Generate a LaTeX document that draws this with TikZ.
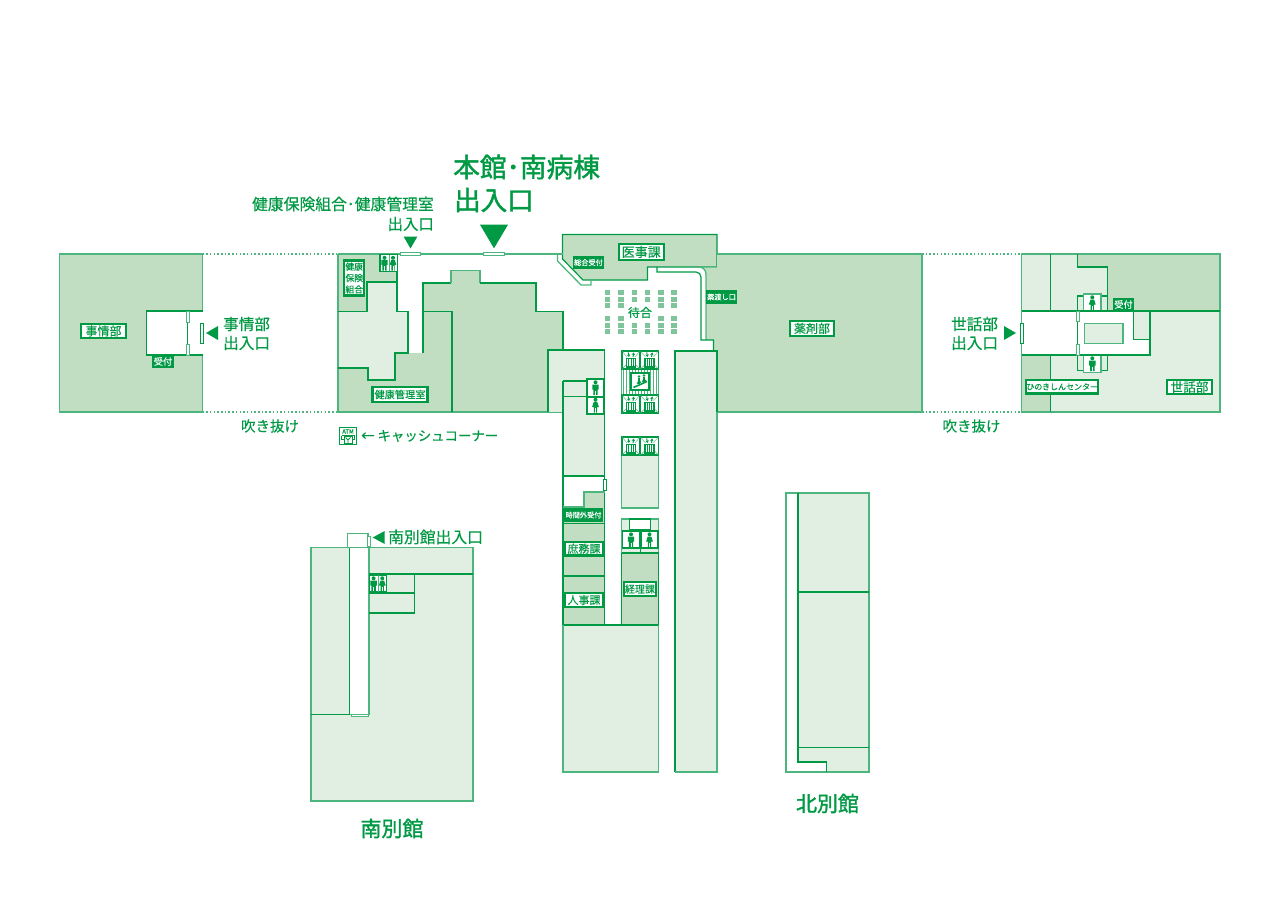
\documentclass[tikz,border=0pt]{standalone}
\usepackage{fontspec}
\setmainfont[FakeBold=0.35]{Noto Sans CJK JP}
\newfontfamily\headf[FakeBold=1.5]{Noto Sans CJK JP}
\newfontfamily\labf[FakeBold=0.25]{Noto Sans CJK JP}
\newcommand\fs[1]{\fontsize{#1}{#1}\selectfont}
\definecolor{gd}{HTML}{009944}
\definecolor{gs}{HTML}{4DB67E}
\definecolor{lt}{HTML}{E1EFE3}
\definecolor{md}{HTML}{C1DEC2}
\definecolor{seat}{HTML}{80C49B}
\usetikzlibrary{arrows.meta}
\tikzset{
 wall/.style={draw=gd,line width=1.2pt},
 soft/.style={draw=gs,line width=1.3pt},
 light/.style={fill=lt},
 mid/.style={fill=md},
 whitef/.style={fill=white},
 dotline/.style={draw=gs,line width=1.1pt,dash pattern=on 1.5pt off 2.2pt},
 doorbox/.style={draw=gd,line width=.8pt,fill=white},
 lab/.style={draw=gd,line width=2.2pt,fill=white,text=gd,inner sep=0pt,align=center},
 dlab/.style={fill=gd,text=white,inner sep=0pt,align=center},
 txt/.style={text=gd,inner sep=0pt,align=center},
 man/.pic={\fill[gd] (0,-5.2) circle (2);
   \fill[gd] (-3.2,-3) rectangle (3.2,2) (-2.2,2) rectangle (2.2,7.5);
   \fill[white] (-.2,3) rectangle (.2,7.5);},
 woman/.pic={\fill[gd] (0,-5.2) circle (2);
   \fill[gd] (-1.8,-3) -- (1.8,-3) -- (3.4,2) -- (-3.4,2) -- cycle (-1.6,2) rectangle (1.6,7.5);
   \fill[white] (-.2,3) rectangle (.2,7.5);},
 evcar/.pic={\draw[draw=gd,line width=1.1pt,fill=white] (0,0) rectangle (18,18);
   \draw[gs,line width=.4pt] (0,0)--(5,6) (18,0)--(13,6) (0,18)--(4,14) (18,18)--(14,14);
   \draw[draw=gd,line width=1.1pt] (4.5,7.5) rectangle (13.5,16);
   \draw[gd,line width=.9pt] (6.7,8)--(6.7,16) (9,8)--(9,16) (11.3,8)--(11.3,16);
   \draw[gd,line width=1pt,-{Stealth[length=2.6pt,width=3.4pt]}] (6.2,1.5)--(7,6);
   \draw[gd,line width=1pt,-{Stealth[length=2.6pt,width=3.4pt]}] (11,6)--(11.8,1.5);},
}
\begin{document}
\begin{tikzpicture}[x=1pt,y=-1pt]
\useasboundingbox (0,0) rectangle (1280,912);
\fill[white] (0,0) rectangle (1280,912);

% ---------- left wing (事情部)
\path[mid] (59.5,254) rectangle (202.5,412);
\draw[soft] (59.5,254) rectangle (202.5,412);
\path[whitef] (146.5,311) rectangle (202.5,355);
\draw[wall] (202.5,311) -- (146.5,311) -- (146.5,355) -- (202.5,355);
\draw[wall] (187.5,311) -- (187.5,355);
\draw[doorbox,draw=gs] (186,311) rectangle (189,322);
\draw[doorbox,draw=gs] (186,344) rectangle (189,355);
\draw[doorbox] (200.5,323.5) rectangle (203.5,343.5);
\draw[dotline] (202.5,254) -- (338,254);
\draw[dotline] (202.5,412) -- (338,412);
\draw[dotline] (922,254) -- (1021.5,254);
\draw[dotline] (922,412) -- (1021.5,412);

% ---------- main building, west part
\path[light] (338,311) -- (367,311) -- (367,282) -- (397,282) -- (397,311.5) -- (408,311.5) -- (408,353) -- (395,353) -- (395,380) -- (368,380) -- (368,368) -- (338,368) -- cycle;
\path[mid] (338,254) -- (397,254) -- (397,282) -- (367,282) -- (367,311) -- (338,311) -- cycle;
\path[mid] (338,368) -- (368,368) -- (368,380) -- (395,380) -- (395,353) -- (423,353) -- (423,311.5) -- (452,311.5) -- (452,412) -- (338,412) -- cycle;
\path[mid] (423,311.5) -- (423,283) -- (451,283) -- (451,270.5) -- (480,270.5) -- (480,283) -- (536,283) -- (536,311.5) -- (563,311.5) -- (563,412) -- (452,412) -- (452,311.5) -- cycle;
\draw[soft] (338,254) -- (338,412) -- (563,412);
\draw[soft] (338,254) -- (558,254);
\draw[wall] (397,254) -- (397,311.5) -- (408,311.5) -- (408,353) -- (395,353) -- (395,380) -- (368,380) -- (368,368) -- (338,368);
\draw[wall] (338,311.5) -- (367,311.5) -- (367,282) -- (397,282);
\draw[wall] (423,353) -- (423,283) -- (451,283);
\draw[soft] (451,283) -- (451,270.5) -- (480,270.5) -- (480,283);
\draw[wall] (480,283) -- (536,283) -- (536,311.5) -- (563,311.5) -- (563,350);
\draw[wall] (423,311.5) -- (452,311.5) -- (452,412);
\draw[doorbox,draw=gs] (400,252.5) rectangle (420.5,255.5);
\draw[doorbox,draw=gs] (483.5,252.5) rectangle (504,255.5);

% ---------- 医事課 block
\path[mid] (562.5,234.5) -- (717,234.5) -- (717,267) -- (647.5,267) -- (647.5,280) -- (583,280) -- (562.5,259) -- cycle;
\draw[wall] (562.5,259) -- (562.5,234.5) -- (717,234.5) -- (717,267) -- (647.5,267) -- (647.5,280) -- (583,280) -- cycle;
\draw[soft] (557.5,254) -- (557.5,261) -- (581,285) -- (591,285) -- (591,280);
\draw[soft] (557.5,254) -- (562.5,254);

% ---------- east part
\path[mid] (717,267) -- (717,254) -- (922,254) -- (922,412) -- (717,412) -- (717,351) -- (713.5,351) -- (713.5,340) -- (706,340) -- (706,274) arc[start angle=0,end angle=-90,radius=7] -- cycle;
\draw[soft] (717,254) -- (922,254) -- (922,412) -- (717,412);
\draw[soft] (706,340) -- (706,274) arc[start angle=0,end angle=-90,radius=7] -- (717,267);
\draw[wall] (657,267) -- (657,272) -- (696,272) arc[start angle=-90,end angle=0,radius=5] -- (701,340) -- (713.5,340) -- (713.5,351);

% ---------- west column
\path[light] (548,350) rectangle (605,412);
\path[light] (563,412) rectangle (604.5,476);
\draw[wall] (563,311.5) -- (563,350);
\draw[wall] (548,412) -- (548,350) -- (604.5,350) -- (604.5,625);
\draw[wall] (563,381) -- (563,625);
\draw[wall] (563,381) -- (587,381) (563,396.5) -- (587,396.5);
\draw[wall,fill=white] (587,379) rectangle (604,397);
\draw[wall,fill=white] (587,397) rectangle (604,414);
\path (595.5,387.5) pic {man};
\path (595.5,405) pic {woman};
% rooms
\path[whitef] (563,476) -- (604.5,476) -- (604.5,492) -- (584,492) -- (584,507) -- (563,507) -- cycle;
\path[mid] (584,492) rectangle (604,507);
\path[mid] (563,507) rectangle (604,625);
\draw[wall] (563,476) -- (604.5,476);
\draw[wall] (563,381) -- (563,625);
\draw[wall] (604.5,476) -- (604.5,625);
\draw[soft] (604.5,492) -- (584,492) -- (584,507) -- (563,507);
\draw[wall] (563,523.5) -- (604.5,523.5);
\draw[wall] (563,576) -- (604.5,576);
\draw[doorbox] (603,479) rectangle (606,490);

% ---------- elevator core
\path[whitef] (621.5,350.5) rectangle (658.5,413);
\draw[soft] (621.5,350.5) rectangle (658.5,413);
\foreach \xx in {623,626,...,658} {\draw[gs,line width=.5pt] (\xx,369) -- (\xx,394.5);}
\path (622,351) pic {evcar};
\path (640.5,351) pic {evcar};
\path (622,395) pic {evcar};
\path (640.5,395) pic {evcar};
\draw[wall,fill=white] (631,373) rectangle (649,390);
\draw[gd,line width=1.6pt] (633.5,387.5) -- (647,381.5);
\fill[gd] (639,376.5) circle (1.3) (644,375.5) circle (1.3);
\draw[gd,line width=1.1pt] (639,378) -- (639,384) (644,377) -- (644,382);
\draw[gd,line width=.8pt] (637,384) -- (639,380) -- (641,383) (642,382) -- (644,379) -- (646,381);

% centre room
\path[light] (621.5,437) rectangle (658.5,508);
\draw[soft] (621.5,437) rectangle (658.5,508);
\path (622,437) pic {evcar};
\path (640.5,437) pic {evcar};

% 経理課 block
\path[light] (621.5,519) rectangle (658.5,553);
\path[mid] (621.5,553) rectangle (658.5,625);
\draw[soft] (621.5,519) rectangle (658.5,553);
\draw[wall] (621.5,553) -- (621.5,625) (658.5,553) -- (658.5,625) (621.5,553) -- (658.5,553);
\draw[wall,fill=white] (629.5,519) rectangle (650.5,529.5);
\draw[wall,fill=white] (622.5,531) rectangle (640,548);
\draw[wall,fill=white] (641,531) rectangle (658,548);
\draw[wall] (640.5,548) -- (640.5,553);
\path (631,539.5) pic {man};
\path (649.5,539.5) pic {woman};

% south lower wing
\path[light] (563,625) rectangle (658.5,772);
\draw[wall] (563,625) -- (658.5,625);
\draw[soft] (563,625) -- (563,772) -- (658.5,772) -- (658.5,625);

% east long column
\path[light] (675,351) rectangle (717,772);
\draw[wall] (675,772) -- (675,351) -- (717,351) -- (717,412);
\draw[soft] (717,412) -- (717,772) -- (675,772);

% seats
\foreach \xx in {604.5,618,631.5,644.5,658,671}
 \foreach \yy in {290,296.5,302.6,316,322.6,329} {
  \pgfmathtruncatemacro\keep{(\xx>630 && \xx<650 && (abs(\yy-302.6)<.1 || abs(\yy-316)<.1)) ? 0 : 1}
  \ifnum\keep=1 \fill[seat] (\xx,\yy) rectangle ++(5.5,5); \fi
 }

% ---------- east wing (世話部)
\path[light] (1021.5,254) rectangle (1220,412);
\path[mid] (1077.5,254) -- (1220,254) -- (1220,311) -- (1107.5,311) -- (1107.5,267) -- (1077.5,267) -- cycle;
\path[mid] (1021.5,355) rectangle (1050.5,412);
\path[whitef] (1021.5,311) rectangle (1150,355);
\path[light] (1133.5,311) rectangle (1150,339.5);
\draw[soft] (1021.5,254) rectangle (1220,412);
\draw[wall] (1050.5,254) -- (1050.5,311) (1050.5,355) -- (1050.5,412);
\draw[wall] (1077.5,254) -- (1077.5,267) -- (1107.5,267) -- (1107.5,296);
\draw[wall] (1021.5,311) -- (1220,311);
\draw[wall] (1021.5,355) -- (1150,355) -- (1150,311);
\draw[wall] (1133.5,311) -- (1133.5,339.5) -- (1150,339.5);
\draw[wall] (1077.5,311) -- (1077.5,355);
\draw[doorbox,draw=gs] (1076,311) rectangle (1079,321);
\draw[doorbox,draw=gs] (1076,344) rectangle (1079,355);
\draw[doorbox] (1020.5,323) rectangle (1023.5,343);
\path[light] (1084.5,323.5) rectangle (1123,343.5);
\draw[soft] (1084.5,323.5) rectangle (1123,343.5);
\draw[wall] (1077.5,311) -- (1077.5,296) -- (1084,296);
\draw[wall] (1101,296) -- (1107.5,296) -- (1107.5,311);
\draw[wall] (1077.5,355) -- (1077.5,370.5) -- (1084,370.5);
\draw[wall] (1101,370.5) -- (1107.5,370.5) -- (1107.5,355);
\draw[soft,fill=white] (1083.5,294) rectangle (1101,311);
\draw[soft,fill=white] (1083.5,355) rectangle (1101,372.5);
\draw[wall] (1083,311) -- (1102,311) (1083,355) -- (1102,355);
\path (1092.3,302.5) pic {woman};
\path (1092.3,363.5) pic {man};

% ---------- south annex
\path[light] (311,547.5) rectangle (473,801);
\draw[soft] (311,547.5) rectangle (473,801);
\draw[soft,fill=white] (347.5,533.5) rectangle (368,547.5);
\draw[doorbox,draw=gs] (367,536) rectangle (370,546);
\path[whitef] (349.5,547.5) rectangle (369,714.5);
\draw[wall] (349.5,547.5) -- (349.5,714.5) -- (311,714.5);
\draw[soft] (369,547.5) -- (369,714.5) -- (349.5,714.5);
\draw[doorbox,draw=gs] (351,714) rectangle (368,716.5);
\draw[wall] (369,574) -- (473,574);
\draw[wall] (369,593) -- (414.5,593);
\draw[wall] (414.5,574) -- (414.5,613) -- (369,613);
\draw[wall,fill=white] (369.5,575) rectangle (386.5,592);
\draw[gs,line width=.5pt] (378,575) -- (378,592);
\begin{scope}[shift={(373.6,583.5)},scale=.8] \path (0,0) pic {man}; \end{scope}
\begin{scope}[shift={(382.3,583.5)},scale=.8] \path (0,0) pic {woman}; \end{scope}

% ---------- north annex
\path[light] (798,493) -- (869,493) -- (869,772) -- (826.5,772) -- (826.5,762) -- (798,762) -- cycle;
\draw[soft] (786,772) -- (786,493) -- (869,493) -- (869,772) -- cycle;
\draw[wall] (798,493) -- (798,762) -- (826.5,762) -- (826.5,772);
\draw[wall] (798,592) -- (869,592);
\draw[wall] (798,747.5) -- (869,747.5);

% toilets top-left
\draw[wall,fill=white] (380,254.5) rectangle (397.5,271.5);
\draw[gs,line width=.5pt] (389,255) -- (389,271);
\begin{scope}[shift={(384.5,263)},scale=.8] \path (0,0) pic {man}; \end{scope}
\begin{scope}[shift={(393,263)},scale=.8] \path (0,0) pic {woman}; \end{scope}

% ---------- labels
\node[lab,minimum width=20,minimum height=35,font=\labf\fontsize{8.8}{11.4}\selectfont] (kenpo) at (354.2,278) {健康\\保険\\組合};
\node[lab,minimum width=55,minimum height=15,font=\labf\fs{10.2}] (kanri) at (400,394.5) {健康管理室};
\node[lab,minimum width=45,minimum height=16,font=\labf\fs{13}] (ijika) at (641.2,252) {医事課};
\node[dlab,minimum width=31,minimum height=13,font=\labf\fs{7.2}] (sogo) at (588.5,262.5) {総合受付};
\node[dlab,minimum width=31,minimum height=14,font=\labf\fs{7.2}] (kusuri) at (721.5,297) {薬渡し口};
\node[txt,font=\fs{12}] (machi) at (640,312.5) {待合};
\node[lab,minimum width=44.5,minimum height=15,font=\labf\fs{12}] (yaku) at (812,328.5) {薬剤部};
\node[lab,minimum width=45,minimum height=14.5,font=\labf\fs{12}] (jijo) at (103.5,331) {事情部};
\node[dlab,minimum width=22,minimum height=13,font=\labf\fs{9.2}] (uke1) at (163,361.5) {受付};
\node[dlab,minimum width=21,minimum height=13,font=\labf\fs{9.2}] (uke2) at (1123.5,304.5) {受付};
\node[lab,minimum width=72,minimum height=13.5,font=\labf\fs{8}] (hino) at (1062.2,386.7) {ひのきしんセンター};
\node[lab,minimum width=45,minimum height=14.5,font=\labf\fs{12.6}] (sewa) at (1189.5,387) {世話部};
\node[dlab,minimum width=39,minimum height=14,font=\labf\fs{7.2}] (jikan) at (583.5,515) {時間外受付};
\node[lab,minimum width=38,minimum height=13.5,font=\labf\fs{11}] (shomu) at (584,548.7) {庶務課};
\node[lab,minimum width=38,minimum height=13.5,font=\labf\fs{11}] (jinji) at (584,600) {人事課};
\node[lab,minimum width=32.5,minimum height=14,font=\labf\fs{10}] (keiri) at (640,589) {経理課};

\node[txt,anchor=west,font=\headf\fs{26.7}] (honkan) at (453,167) {本館･南病棟};
\node[txt,anchor=west,font=\headf\fs{26.5}] (deguchi) at (454,200) {出入口};
\node[txt,anchor=east,font=\fs{15.8}] (kenko) at (434,204) {健康保険組合･健康管理室};
\node[txt,anchor=east,font=\fs{15.4}] (kenko2) at (434,224) {出入口};
\node[txt,anchor=west,align=left,font=\fs{15.6}] (jd1) at (223,324) {事情部};
\node[txt,anchor=west,align=left,font=\fs{15.6}] (jd2) at (223,343) {出入口};
\node[txt,anchor=west,align=left,font=\fs{15.6}] (sd1) at (951,324) {世話部};
\node[txt,anchor=west,align=left,font=\fs{15.6}] (sd2) at (951,343) {出入口};
\node[txt,font=\fs{14.5}] (fuki1) at (270,426) {吹き抜け};
\node[txt,font=\fs{14.5}] (fuki2) at (971.5,426) {吹き抜け};
\node[txt,anchor=west,font=\fs{13.4}] (cash) at (361,436) {← キャッシュコーナー};
\node[txt,anchor=west,font=\fs{15.8}] (minami) at (388,537) {南別館出入口};
\node[txt,font=\headf\fs{21}] (nbk) at (392,828.5) {南別館};
\node[txt,font=\headf\fs{21}] (kbk) at (827.5,803.5) {北別館};

% ---------- entrance triangles
\fill[gd] (480,224.7) -- (508,224.7) -- (494,248.3) -- cycle;
\fill[gd] (403.7,236.7) -- (417.3,236.7) -- (410.5,248.5) -- cycle;
\fill[gd] (206,333) -- (218,326) -- (218,340) -- cycle;
\fill[gd] (1016,333) -- (1004,326) -- (1004,340) -- cycle;
\fill[gd] (372.7,537.5) -- (384.7,531) -- (384.7,544) -- cycle;

% ATM mark
\draw[gd,line width=1pt,fill=white] (339.5,427.5) rectangle (356.5,444.5);
\node[text=gd,inner sep=0pt,font=\labf\fs{5.8}] (atm) at (348,431.5) {ATM};
\draw[gd,line width=.8pt] (341.5,435.5) -- (354.5,435.5) -- (354.5,439) -- (352,439) (341.5,435.5) -- (341.5,439) -- (344,439);
\draw[gd,line width=.8pt,fill=white] (344,436) rectangle (352,443.5);
\draw[gd,line width=.8pt] (345.5,437.5) -- (348,440) -- (350.5,437.5) (348,440) -- (348,443);
\end{tikzpicture}
\end{document}
